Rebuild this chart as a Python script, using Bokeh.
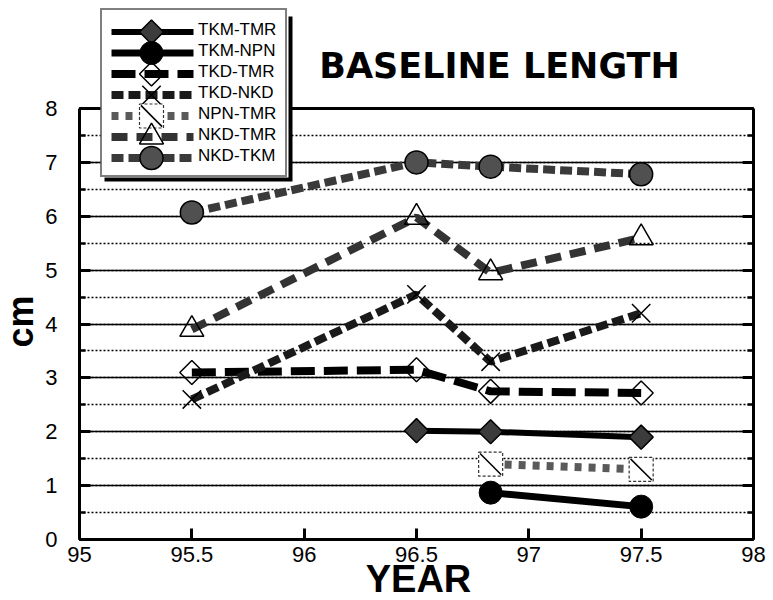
import math
from bokeh.plotting import figure
from bokeh.models import (Range1d, SingleIntervalTicker, FixedTicker, LinearAxis, Grid,
                          Legend, LegendItem, Label, BoxAnnotation)
from bokeh.embed import file_html
from bokeh.resources import INLINE

# ---- data ----
series_names = ["TKM-TMR", "TKM-NPN", "TKD-TMR", "TKD-NKD", "NPN-TMR", "NKD-TMR", "NKD-TKM"]

years_tkm_tmr = [96.5, 96.83, 97.5]
tkm_tmr = [2.02, 2.0, 1.9]

years_tkm_npn = [96.83, 97.5]
tkm_npn = [0.87, 0.61]

years_tkd_tmr = [95.5, 96.5, 96.83, 97.5]
tkd_tmr = [3.1, 3.15, 2.75, 2.72]

years_tkd_nkd = [95.5, 96.5, 96.83, 97.5]
tkd_nkd = [2.6, 4.55, 3.3, 4.2]

years_npn_tmr = [96.83, 97.5]
npn_tmr = [1.4, 1.3]

years_nkd_tmr = [95.5, 96.5, 96.83, 97.5]
nkd_tmr = [3.9, 5.98, 4.95, 5.6]

years_nkd_tkm = [95.5, 96.5, 96.83, 97.5]
nkd_tkm = [6.07, 7.0, 6.92, 6.78]

x_ticks = [95, 95.5, 96, 96.5, 97, 97.5, 98]
x_tick_labels = ["95", "95.5", "96", "96.5", "97", "97.5", "98"]
x_min, x_max = 95, 98
y_min, y_max = 0, 8

title_text = "BASELINE LENGTH"
x_title = "YEAR"
y_title = "cm"

# ---- layout geometry (pixels) ----
W, H = 773, 600
PLOT_L, PLOT_R, PLOT_T, PLOT_B = 79, 753, 108, 539
sx = (PLOT_R - PLOT_L) / (x_max - x_min)
sy = (PLOT_B - PLOT_T) / (y_max - y_min)


def px_x(px):
    return x_min + (px - PLOT_L) / sx


def px_y(py):
    return y_min + (PLOT_B - py) / sy


p = figure(x_range=Range1d(px_x(0), px_x(W)), y_range=Range1d(px_y(H), px_y(0)),
           frame_width=W, frame_height=H, min_border=0,
           x_axis_location=None, y_axis_location=None,
           output_backend="svg", toolbar_location=None)
p.background_fill_color = "white"
p.border_fill_color = "white"
p.outline_line_color = None
p.xgrid.visible = False
p.ygrid.visible = False

yt = SingleIntervalTicker(interval=1, num_minor_ticks=2)
xt = FixedTicker(ticks=x_ticks)

grid = Grid(dimension=1, ticker=yt, bounds=(y_min, y_max), cross_bounds=(x_min, x_max),
            grid_line_color="black", grid_line_width=1.3,
            minor_grid_line_color="black", minor_grid_line_width=1.6,
            minor_grid_line_dash="2 2", level="underlay")
p.add_layout(grid)


def style_axis(ax, labels=True):
    ax.axis_line_width = 3
    ax.axis_line_color = "black"
    ax.major_tick_in = 11
    ax.major_tick_out = 0
    ax.major_tick_line_width = 3
    ax.minor_tick_in = 6
    ax.minor_tick_out = 0
    ax.minor_tick_line_width = 2.5
    ax.major_label_text_font = "Liberation Sans"
    ax.major_label_text_font_size = "22px"
    ax.major_label_text_color = "black" if labels else None


left = LinearAxis(ticker=yt, fixed_location=x_min, bounds=(y_min, y_max))
style_axis(left)
left.major_label_standoff = 22
p.add_layout(left, "left")

right = LinearAxis(ticker=yt, fixed_location=x_max, bounds=(y_min, y_max))
style_axis(right, labels=False)
p.add_layout(right, "right")

bottom = LinearAxis(ticker=xt, fixed_location=y_min, bounds=(x_min, x_max),
                    major_label_overrides={t: s for t, s in zip(x_ticks, x_tick_labels)})
style_axis(bottom)
bottom.minor_tick_line_color = None
bottom.major_label_standoff = 7
p.add_layout(bottom, "below")

top = LinearAxis(ticker=xt, fixed_location=y_max, bounds=(x_min, x_max), level="underlay")
style_axis(top, labels=False)
top.major_tick_line_color = None
top.minor_tick_line_color = None
p.add_layout(top, "above")

# ---- legend background + drop shadow (beneath the glyphs) ----
LEG_L, LEG_B, LEG_W, LEG_H = 100, 177, 188, 165
LEG_PAD, ROW_H, GLYPH_W = 9, 21, 84
shadow = BoxAnnotation(left=LEG_L + 4, right=LEG_L + LEG_W + 4,
                       bottom=H - LEG_B - 4, top=H - LEG_B + LEG_H - 4,
                       left_units="screen", right_units="screen",
                       bottom_units="screen", top_units="screen",
                       fill_color="black", fill_alpha=1, line_color=None,
                       level="underlay")
p.add_layout(shadow)
legend_bg = BoxAnnotation(left=LEG_L, right=LEG_L + LEG_W,
                          bottom=H - LEG_B, top=H - LEG_B + LEG_H,
                          left_units="screen", right_units="screen",
                          bottom_units="screen", top_units="screen",
                          fill_color="white", fill_alpha=1, line_color=None,
                          level="underlay")
p.add_layout(legend_bg)

# ---- series styles ----
xs_all = [years_tkm_tmr, years_tkm_npn, years_tkd_tmr, years_tkd_nkd,
          years_npn_tmr, years_nkd_tmr, years_nkd_tkm]
ys_all = [tkm_tmr, tkm_npn, tkd_tmr, tkd_nkd, npn_tmr, nkd_tmr, nkd_tkm]

line_styles = [
    dict(line_color="black", line_width=6),
    dict(line_color="black", line_width=7),
    dict(line_color="black", line_width=8, line_dash="24 9"),
    dict(line_color="#1a1a1a", line_width=8, line_dash="12 5"),
    dict(line_color="#5a5a5a", line_width=8, line_dash="7 7"),
    dict(line_color="#333333", line_width=8, line_dash="16 9"),
    dict(line_color="#3a3a3a", line_width=8, line_dash="12 5"),
]
marker_styles = [
    [dict(marker="square", angle=math.pi / 4, size=17, fill_color="#3c3c3c",
          line_color="black", line_width=1.5)],
    [dict(marker="circle", size=23, fill_color="black", line_color="black")],
    [dict(marker="square", angle=math.pi / 4, size=17, fill_color=None,
          line_color="black", line_width=1.5)],
    [dict(marker="x", size=26, line_color="black", line_width=1.5)],
    [dict(marker="square", size=24, fill_color="white", line_color="#333333",
          line_width=1.2, line_dash="3 2"),
     dict(marker="dash", angle=-math.pi / 4, size=30, line_color="black", line_width=1.5)],
    [dict(marker="triangle", size=24, fill_color=None, line_color="black", line_width=1.5)],
    [dict(marker="circle", size=23, fill_color="#505050", line_color="black", line_width=1.5)],
]

# legend keys (line + full-size marker) drawn inside the legend box
leg_top = LEG_B - LEG_H
key_x0 = px_x(LEG_L + LEG_PAD + 2)
key_x1 = px_x(LEG_L + LEG_PAD + GLYPH_W)
key_xc = px_x(LEG_L + LEG_PAD + GLYPH_W / 2)
for i, (ls, mss) in enumerate(zip(line_styles, marker_styles)):
    key_y = px_y(leg_top + LEG_PAD + (i + 0.5) * ROW_H)
    p.line([key_x0, key_x1], [key_y, key_y], **ls)
    for ms in mss:
        p.scatter([key_xc], [key_y], **ms)

# data series
items = []
for name, xs, ys, ls, mss in zip(series_names, xs_all, ys_all, line_styles, marker_styles):
    p.line(xs, ys, **ls)
    for ms in mss:
        p.scatter(xs, ys, **ms)
    key_proxy = p.scatter([], [], marker="circle", alpha=0)
    items.append(LegendItem(label=name, renderers=[key_proxy]))

legend = Legend(items=items, location=(LEG_L, H - LEG_B),
                border_line_color="black", border_line_width=2.5,
                background_fill_color=None,
                label_text_font="Liberation Sans", label_text_font_size="17px",
                label_text_color="black",
                glyph_width=GLYPH_W, glyph_height=ROW_H, label_height=ROW_H,
                spacing=0, padding=LEG_PAD, margin=0, label_standoff=3)
p.add_layout(legend)

# ---- titles ----
p.add_layout(Label(x=px_x(499), y=px_y(65), text=title_text, text_align="center",
                   text_baseline="middle", text_font="DejaVu Sans",
                   text_font_style="bold", text_font_size="35px", text_color="black"))
p.add_layout(Label(x=px_x(418), y=px_y(578), text=x_title, text_align="center",
                   text_baseline="middle", text_font="Liberation Sans",
                   text_font_style="bold", text_font_size="38px", text_color="black"))
p.add_layout(Label(x=px_x(20), y=px_y(321), text=y_title, text_align="center",
                   text_baseline="middle", angle=math.pi / 2, text_font="Liberation Sans",
                   text_font_style="bold", text_font_size="36px", text_color="black"))

open("out.html", "w").write(file_html(p, INLINE))
